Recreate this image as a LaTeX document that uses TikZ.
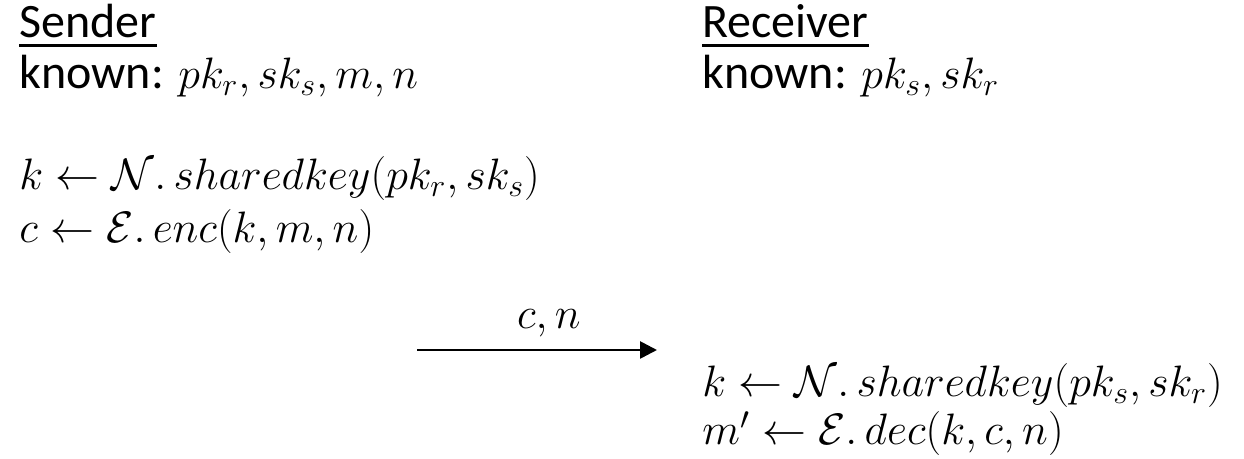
\RequirePackage{fix-cm}
\documentclass[tikz,border=0pt]{standalone}
\usepackage{amsmath}
\usepackage{fontspec}
\setmainfont{Carlito}
\DeclareMathSizes{24}{22}{16}{12}
\usetikzlibrary{arrows.meta}

\begin{document}
\begin{tikzpicture}[
  x=0.5pt, y=-0.5pt,
  lbl/.style={anchor=base west, inner sep=0pt, font=\fontsize{24}{29}\selectfont},
  uline/.style={line width=1.5pt},
  msgarrow/.style={line width=1.35pt, -{Triangle[length=8.5pt,width=8.5pt]}}
]
  \useasboundingbox (0,0) rectangle (1244,459);

  %% Sender side
  \node[lbl] (sender)   at (19,38)  {Sender};
  \node[lbl] (sndknown) at (19,89)  {known: $pk_r, sk_s, m, n$};
  \node[lbl] (sndkey)   at (19,190) {$k \leftarrow \mathcal{N}.\,sharedkey(pk_r, sk_s)$};
  \node[lbl] (sndenc)   at (19,243) {$c \leftarrow \mathcal{E}.\,enc(k, m, n)$};
  \draw[uline] ([yshift=-4pt]sender.base west) -- ([yshift=-4pt]sender.base east);

  %% Receiver side
  \node[lbl] (receiver) at (702,38)  {Receiver};
  \node[lbl] (rcvknown) at (702,89)  {known: $pk_s, sk_r$};
  \node[lbl] (rcvkey)   at (702,397) {$k \leftarrow \mathcal{N}.\,sharedkey(pk_s, sk_r)$};
  \node[lbl] (rcvdec)   at (702,445) {$m' \leftarrow \mathcal{E}.\,dec(k, c, n)$};
  \draw[uline] ([yshift=-4pt]receiver.base west) -- ([yshift=-4pt]receiver.base east);

  %% Message
  \coordinate (msgfrom) at (417,350);
  \coordinate (msgto)   at (657,350);
  \node[lbl, anchor=base] (msg) at (549,329) {$c, n$};
  \draw[msgarrow] (msgfrom) -- (msgto);
\end{tikzpicture}
\end{document}
